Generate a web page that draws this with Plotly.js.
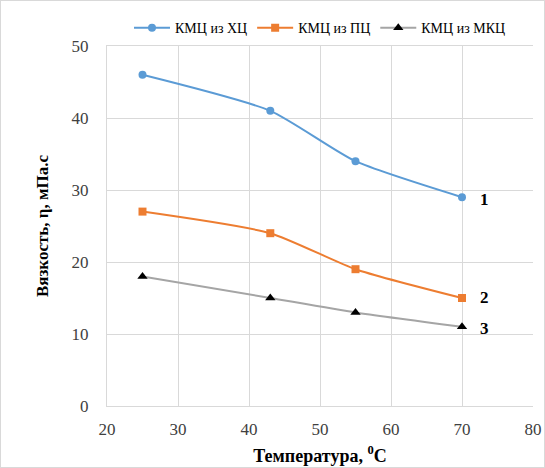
<!DOCTYPE html>
<html><head><meta charset="utf-8">
<script src="https://cdn.plot.ly/plotly-3.0.1.min.js"></script>
<style>html,body{margin:0;padding:0;background:#fff}#c{width:543px;height:466px;border:1px solid #d9d9d9}</style>
</head><body><div id="c"></div>
<script>
const temps = [25, 43, 55, 70];
const seriesNames = ['КМЦ из ХЦ', 'КМЦ из ПЦ', 'КМЦ из МКЦ'];
const hc = [46, 41, 34, 29];
const pc = [27, 24, 19, 15];
const mkc = [18, 15, 13, 11];
const curveLabels = ['1', '2', '3'];

const serif = '"Liberation Serif", "Times New Roman", serif';
const traces = [
  {x: temps, y: hc, name: seriesNames[0], mode: 'lines+markers', line: {color: '#5B9BD5', width: 2, shape: 'spline', smoothing: 0.6}, marker: {symbol: 'circle', size: 8, color: '#5B9BD5'}},
  {x: temps, y: pc, name: seriesNames[1], mode: 'lines+markers', line: {color: '#ED7D31', width: 2, shape: 'spline', smoothing: 0.6}, marker: {symbol: 'square', size: 8, color: '#ED7D31'}},
  {x: temps, y: mkc, name: seriesNames[2], mode: 'lines+markers', line: {color: '#A5A5A5', width: 2, shape: 'spline', smoothing: 0.6}, marker: {symbol: 'triangle-up', size: 9, color: '#000000'}}
];
const lastVals = [hc[3], pc[3], mkc[3]];
const annotations = curveLabels.map((t, i) => ({
  x: temps[3], y: lastVals[i], text: '<b>' + t + '</b>', showarrow: false, xshift: 22, yshift: i === 1 ? 1 : -2,
  font: {family: serif, size: 17, color: '#000'}
}));
const layout = {
  width: 543, height: 466,
  margin: {l: 106, r: 11, t: 42, b: 61},
  paper_bgcolor: '#fff', plot_bgcolor: '#fff',
  showlegend: true,
  legend: {orientation: 'h', x: 0.5, xanchor: 'center', y: 1.005, yanchor: 'bottom', font: {family: serif, size: 14, color: '#000'}, itemwidth: 36, tracegroupgap: 0, traceorder: 'normal'},
  xaxis: {range: [20, 80], dtick: 10, tick0: 20, showgrid: true, gridcolor: '#d9d9d9', zeroline: false, showline: true, linecolor: '#d9d9d9', mirror: true, ticks: '',
    tickfont: {family: serif, size: 17, color: '#404040'}, ticklabelstandoff: 8, automargin: false,
    title: {text: '<b>Температура, <sup>0</sup>С</b>', font: {family: serif, size: 18, color: '#000'}, standoff: 10}},
  yaxis: {range: [0, 50], dtick: 10, showgrid: true, gridcolor: '#d9d9d9', zeroline: false, showline: true, linecolor: '#d9d9d9', ticks: '',
    tickfont: {family: serif, size: 17, color: '#404040'}, ticklabelstandoff: 14,
    title: {text: '<b>Вязкость, η, мПа.с</b>', font: {family: serif, size: 17, color: '#000'}, standoff: 18}},
  annotations: annotations
};
Plotly.newPlot('c', traces, layout, {displayModeBar: false});
</script></body></html>
